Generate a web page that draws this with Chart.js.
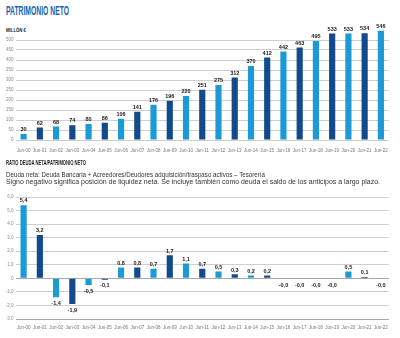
<!DOCTYPE html>
<html>
<head>
<meta charset="utf-8">
<script src="https://cdn.jsdelivr.net/npm/chart.js@4"></script>
<style>
  body { margin: 0; width: 400px; height: 338px; background: #fff; position: relative; overflow: hidden; }
  .txt { position: absolute; left: 6px; white-space: nowrap; line-height: 1; transform-origin: left center; }
  .title { top: 4px; font: bold 12px "Liberation Sans Narrow", "Liberation Sans", sans-serif; color: #1b5fa8; }
  .unit { top: 26.5px; font: bold 5.5px "Liberation Sans Narrow", "Liberation Sans", sans-serif; color: #222; }
  .sub { top: 158.5px; font: bold 7px "Liberation Sans Narrow", "Liberation Sans", sans-serif; color: #222; }
  .note { font: 6.5px "Liberation Sans", Arial, sans-serif; color: #333; }
  .wrap { position: absolute; left: 0; width: 400px; }
</style>
</head>
<body>
<div class="txt title" data-w="63">PATRIMONIO NETO</div>
<div class="txt unit" data-w="20">MILLÓN €</div>
<div class="wrap" style="top:0;height:160px"><canvas id="patrimonio"></canvas></div>

<div class="txt sub" data-w="80">RATIO DEUDA NETA/PATRIMONIO NETO</div>
<div class="txt note" style="top:171px" data-w="259">Deuda neta: Deuda Bancaria + Acreedores/Deudores adquisición/traspaso activos – Tesorería</div>
<div class="txt note" style="top:178px" data-w="374">Signo negativo significa posición de liquidez neta. Se incluye también como deuda el saldo de los anticipos a largo plazo.</div>
<div class="wrap" style="top:190px;height:148px"><canvas id="ratio"></canvas></div>

<script>
const years = ['Jun-00', 'Jun-01', 'Jun-02', 'Jun-03', 'Jun-04', 'Jun-05', 'Jun-06', 'Jun-07',
  'Jun-08', 'Jun-09', 'Jun-10', 'Jun-11', 'Jun-12', 'Jun-13', 'Jun-14', 'Jun-15', 'Jun-16',
  'Jun-17', 'Jun-18', 'Jun-19', 'Jun-20', 'Jun-21', 'Jun-22'];
const patrimonioNeto = [30, 62, 68, 74, 80, 86, 106, 141, 176, 196, 220, 251, 275, 312, 370,
  412, 442, 463, 495, 533, 533, 534, 546];
// deuda neta / patrimonio neto (the -0,0 years are tiny negatives)
const ratioDeuda = [5.4, 3.2, -1.4, -1.9, -0.5, -0.1, 0.8, 0.8, 0.7, 1.7, 1.1, 0.7, 0.5, 0.3,
  0.2, 0.2, -0.03, -0.03, -0.03, -0.03, 0.5, 0.1, -0.03];

const lightBlue = '#1b9ad6';
const darkBlue = '#124a8c';
const barColors = years.map((y, i) => i % 2 ? darkBlue : lightBlue);

// squeeze the condensed headings to their width
document.querySelectorAll('.txt').forEach(el => {
  const w = el.getBoundingClientRect().width;
  el.style.transform = 'scaleX(' + (el.dataset.w / w) + ')';
});

const tickFont = { family: '"Liberation Sans Narrow", "Liberation Sans", sans-serif', size: 4.5 };

const valueLabels = {
  id: 'valueLabels',
  afterDatasetsDraw(chart, args, opts) {
    const ctx = chart.ctx;
    const data = chart.data.datasets[0].data;
    ctx.save();
    ctx.font = 'bold 5.5px "Liberation Sans", Arial, sans-serif';
    ctx.fillStyle = '#222';
    ctx.textAlign = 'center';
    chart.getDatasetMeta(0).data.forEach((bar, i) => {
      const txt = opts.format(data[i]);
      if (data[i] >= 0) {
        ctx.textBaseline = 'bottom';
        ctx.fillText(txt, bar.x, bar.y - 1.5);
      } else {
        ctx.textBaseline = 'top';
        ctx.fillText(txt, bar.x, bar.y + 3.5);
      }
    });
    ctx.restore();
  }
};

function makeChart(id, values, yOpts, pad, xHeight, xPad, fmt) {
  return new Chart(document.getElementById(id), {
    type: 'bar',
    data: {
      labels: years,
      datasets: [{
        data: values,
        backgroundColor: barColors,
        categoryPercentage: 1,
        barPercentage: 0.38
      }]
    },
    options: {
      responsive: true,
      maintainAspectRatio: false,
      animation: false,
      layout: { padding: { top: pad, right: 11, left: 0, bottom: 0 } },
      plugins: {
        legend: { display: false },
        tooltip: { enabled: false },
        valueLabels: { format: fmt }
      },
      scales: {
        x: {
          grid: { display: false, drawTicks: false },
          border: { display: false },
          ticks: { font: tickFont, color: '#777', padding: xPad, maxRotation: 0, autoSkip: false },
          afterFit(scale) { scale.height = xHeight; }
        },
        y: Object.assign({
          border: { display: false },
          afterFit(scale) { scale.width = 15.5; }
        }, yOpts)
      }
    },
    plugins: [valueLabels]
  });
}

makeChart('patrimonio', patrimonioNeto, {
  min: 0,
  max: 550,
  grid: {
    drawTicks: false,
    color: c => c.tick.value > 500 ? 'rgba(0,0,0,0)' : '#cfcfcf'
  },
  ticks: {
    stepSize: 50,
    font: tickFont,
    color: '#888',
    padding: 2,
    callback: v => v > 500 ? '' : v
  }
}, 30, 20, 8, v => String(v));

makeChart('ratio', ratioDeuda, {
  min: -3,
  max: 6,
  grid: {
    drawTicks: false,
    color: c => (c.tick.value === 0 || c.tick.value === -3) ? '#a8a8a8' : '#cfcfcf'
  },
  ticks: {
    stepSize: 1,
    font: tickFont,
    color: '#888',
    padding: 2,
    callback: v => v === 0 ? '0' : v.toFixed(1).replace('.', ',')
  }
}, 7, 19, 6, v => v.toFixed(1).replace('.', ','));
</script>
</body>
</html>
